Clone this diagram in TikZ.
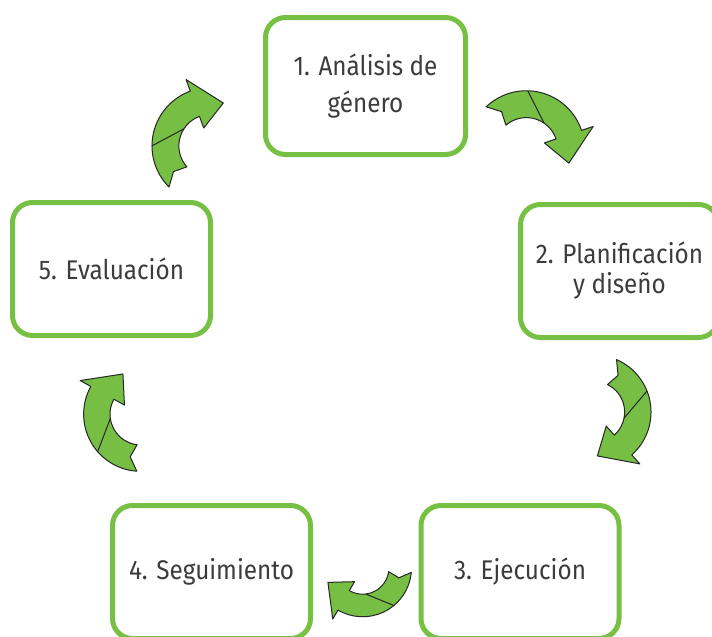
\documentclass[tikz,border=0pt]{standalone}
\usepackage{fontspec}
\setmainfont{Fira Sans}[FakeStretch=0.9]
\definecolor{boxgreen}{RGB}{118,192,67}
\definecolor{arrowgreen}{RGB}{118,190,68}
\definecolor{textgray}{RGB}{60,60,60}
\tikzset{
  stepbox/.style={draw=boxgreen, line width=5pt, rounded corners=20pt,
    minimum width=198pt, minimum height=133pt, inner sep=0pt, align=center,
    text=textgray},
  arrowbody/.style={fill=arrowgreen, draw=black!85, line width=1pt, line join=round},
  cyclearrow/.pic={
    \begin{scope}[shift={(34.3pt,-20.6pt)}]
      \draw[arrowbody] (150:52pt) arc[start angle=150, end angle=35, radius=52pt]
        -- (35:63pt) -- (-2:40pt) -- (35:17pt) -- (35:28pt)
        arc[start angle=35, end angle=147, radius=28pt]
        -- (140:40pt) -- cycle;
      \draw[black!85, line width=1pt] (105:52pt) -- (72:28pt);
    \end{scope}
  }
}
\begin{document}
\begin{tikzpicture}[x=1pt,y=1pt]
\useasboundingbox (0,0) rectangle (712,-637);
% boxes
\node[stepbox, minimum width=200pt, minimum height=137pt, font=\fontsize{27}{37}\selectfont] (b1) at (365.5,-86) {1. Análisis de\\género};
\node[stepbox, font=\fontsize{27}{30}\selectfont] (b2) at (619.5,-271) {2. Planificación\\y diseño};
\node[stepbox, font=\fontsize{27}{30}\selectfont] (b3) at (520,-572) {3. Ejecución};
\node[stepbox, font=\fontsize{27}{30}\selectfont] (b4) at (211.5,-572) {4. Seguimiento};
\node[stepbox, font=\fontsize{27}{30}\selectfont] (b5) at (111.5,-269) {5. Evaluación};
% curved arrows
\pic[rotate=-16.4, scale=1.12] at (496,-116) {cyclearrow};
\pic[rotate=-83.4, scale=1.1] at (612,-372) {cyclearrow};
\pic[rotate=204.7, scale=0.94] at (400,-572) {cyclearrow};
\pic[rotate=116, scale=1.1] at (137,-458) {cyclearrow};
\pic[rotate=75, scale=1.12] at (178,-177) {cyclearrow};
\end{tikzpicture}
\end{document}
